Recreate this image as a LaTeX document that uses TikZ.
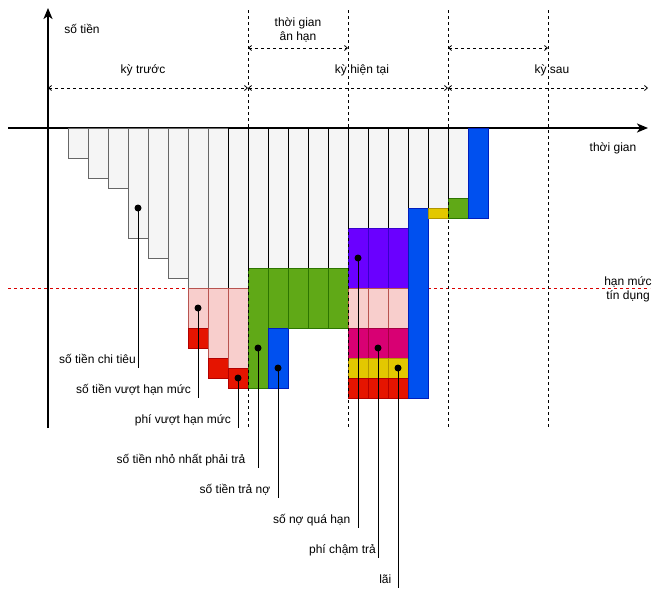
\documentclass[tikz,border=0pt]{standalone}
\usepackage{fontspec}
\setmainfont{Liberation Sans}
\usetikzlibrary{arrows.meta}
\definecolor{gfill}{HTML}{F5F5F5}
\definecolor{gdraw}{HTML}{666666}
\definecolor{pfill}{HTML}{F8CECC}
\definecolor{pdraw}{HTML}{B85450}
\definecolor{rfill}{HTML}{E51400}
\definecolor{rdraw}{HTML}{B20000}
\definecolor{grfill}{HTML}{60A917}
\definecolor{grdraw}{HTML}{2D7600}
\definecolor{bfill}{HTML}{0050EF}
\definecolor{bdraw}{HTML}{001DBC}
\definecolor{vfill}{HTML}{6A00FF}
\definecolor{vdraw}{HTML}{3700CC}
\definecolor{mfill}{HTML}{D80073}
\definecolor{mdraw}{HTML}{A50040}
\definecolor{yfill}{HTML}{E3C800}
\definecolor{ydraw}{HTML}{B09500}
\newcommand\segbox[4]{\draw[#4] (#1,#2) rectangle (#1+20,#3);}
\begin{document}
\begin{tikzpicture}[x=1pt,y=-1pt,
  font=\fontsize{12}{13.5}\selectfont,
  gbox/.style={fill=gfill,draw=gdraw,line width=1pt},
  kbox/.style={fill=gfill,draw=black,line width=1pt},
  pbox/.style={fill=pfill,draw=pdraw,line width=1pt},
  rbox/.style={fill=rfill,draw=rdraw,line width=1pt},
  grbox/.style={fill=grfill,draw=grdraw,line width=1pt},
  bbox/.style={fill=bfill,draw=bdraw,line width=1pt},
  vbox/.style={fill=vfill,draw=vdraw,line width=1pt},
  mbox/.style={fill=mfill,draw=mdraw,line width=1pt},
  ybox/.style={fill=yfill,draw=ydraw,line width=1pt},
  axisline/.style={line width=2pt,-{Stealth[length=11pt,width=9pt,inset=3pt]}},
  vdash/.style={dash pattern=on 3pt off 3pt,line width=0.8pt},
  limitline/.style={dash pattern=on 3pt off 3pt,line width=0.8pt,draw=red!85!black},
  spanline/.style={dash pattern=on 3pt off 3pt,line width=0.8pt,
    {Straight Barb[length=3pt,width=5pt]}-{Straight Barb[length=3pt,width=5pt]}},
  dotmark/.style={circle,fill=black,inner sep=0pt,minimum size=7pt},
  lbl/.style={inner sep=0pt,anchor=base east},
  txt/.style={inner sep=0pt,anchor=base},
  callline/.style={line width=0.8pt}
]
\useasboundingbox (0,0) rectangle (659,597);

% credit limit line (under the bars)
\coordinate (limL) at (8,288);
\coordinate (limR) at (650,288);
\draw[limitline] (limL) -- (limR);

% axes
\coordinate (xa0) at (8,128);
\coordinate (xa1) at (648,128);
\coordinate (ya0) at (48,428);
\coordinate (ya1) at (48,8);
\draw[axisline] (xa0) -- (xa1);
\draw[axisline] (ya0) -- (ya1);

% bars: previous period
\segbox{68}{128}{158}{gbox}
\segbox{88}{128}{178}{gbox}
\segbox{108}{128}{188}{gbox}
\segbox{128}{128}{238}{gbox}
\segbox{148}{128}{258}{gbox}
\segbox{168}{128}{278}{gbox}
\segbox{188}{128}{288}{gbox}
\segbox{188}{288}{328}{pbox}
\segbox{188}{328}{348}{rbox}
\segbox{208}{128}{288}{gbox}
\segbox{208}{288}{358}{pbox}
\segbox{208}{358}{378}{rbox}
\segbox{228}{128}{288}{kbox}
\segbox{228}{288}{368}{pbox}
\segbox{228}{368}{388}{rbox}
% grace period
\segbox{248}{128}{268}{kbox}
\segbox{248}{268}{388}{grbox}
\segbox{268}{128}{268}{kbox}
\segbox{268}{268}{328}{grbox}
\segbox{268}{328}{388}{bbox}
\foreach \cx in {288,308,328}{
  \segbox{\cx}{128}{268}{kbox}
  \segbox{\cx}{268}{328}{grbox}
}
% current period, after grace
\foreach \cx in {348,368,388}{
  \segbox{\cx}{128}{228}{kbox}
  \segbox{\cx}{228}{288}{vbox}
  \segbox{\cx}{288}{328}{pbox}
  \segbox{\cx}{328}{358}{mbox}
  \segbox{\cx}{358}{378}{ybox}
  \segbox{\cx}{378}{398}{rbox}
}
\segbox{408}{128}{208}{kbox}
\segbox{408}{208}{398}{bbox}
\segbox{428}{128}{208}{kbox}
\segbox{428}{208}{218}{ybox}
\segbox{448}{128}{198}{kbox}
\segbox{448}{198}{218}{grbox}
\segbox{468}{128}{218}{bbox}

% period separators
\foreach \vx/\nm in {248/a,348/b,448/c,548/d}{
  \coordinate (v\nm t) at (\vx,10);
  \coordinate (v\nm b) at (\vx,428);
  \draw[vdash] (v\nm t) -- (v\nm b);
}

% span arrows
\coordinate (s48) at (48,88);
\coordinate (s248) at (248,88);
\coordinate (s448) at (448,88);
\coordinate (s648) at (648,88);
\coordinate (g248) at (248,48);
\coordinate (g348) at (348,48);
\coordinate (g448) at (448,48);
\coordinate (g548) at (548,48);
\draw[spanline] (s48) -- (s248);
\draw[spanline] (s248) -- (s448);
\draw[spanline] (s448) -- (s648);
\draw[spanline] (g248) -- (g348);
\draw[spanline] (g448) -- (g548);

% texts
\node[txt] (tien) at (82,33) {số tiền};
\node[txt] (ktruoc) at (143,73.5) {kỳ trước};
\node[txt] (khientai) at (362,73.5) {kỳ hiện tại};
\node[txt] (ksau) at (552,73.5) {kỳ sau};
\node[inner sep=0pt,align=center] (anhan) at (298,30) {thời gian\\ân hạn};
\node[txt] (tgian) at (613,151.5) {thời gian};
\node[inner sep=0pt,align=center] (hanmuc) at (628,289.5) {hạn mức\\tín dụng};

% callouts
\node[dotmark] (d1) at (138,208) {};
\node[dotmark] (d2) at (198,308) {};
\node[dotmark] (d3) at (238,378) {};
\node[dotmark] (d4) at (258,348) {};
\node[dotmark] (d5) at (278,368) {};
\node[dotmark] (d6) at (358,258) {};
\node[dotmark] (d7) at (378,348) {};
\node[dotmark] (d8) at (398,368) {};
\coordinate (e1) at (138,368);
\coordinate (e2) at (198,398);
\coordinate (e3) at (238,428);
\coordinate (e4) at (258,468);
\coordinate (e5) at (278,498);
\coordinate (e6) at (358,528);
\coordinate (e7) at (378,558);
\coordinate (e8) at (398,588);
\foreach \i in {1,...,8}{\draw[callline] (d\i.center) -- (e\i);}
\node[lbl] (l1) at (136,363.5) {số tiền chi tiêu};
\node[lbl] (l2) at (191,393.5) {số tiền vượt hạn mức};
\node[lbl] (l3) at (231,423.5) {phí vượt hạn mức};
\node[lbl] (l4) at (245.5,463.5) {số tiền nhỏ nhất phải trả};
\node[lbl] (l5) at (270.5,493.5) {số tiền trả nợ};
\node[lbl] (l6) at (350.5,523) {số nợ quá hạn};
\node[lbl] (l7) at (376,553.5) {phí chậm trả};
\node[lbl] (l8) at (391.5,583.5) {lãi};
\end{tikzpicture}
\end{document}
